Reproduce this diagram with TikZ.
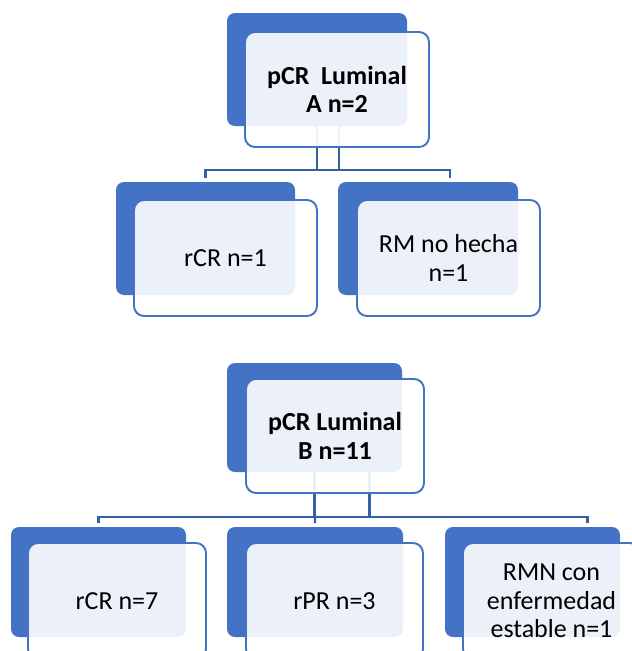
\documentclass[tikz,border=0pt]{standalone}
\usepackage{fontspec}
\setmainfont{Carlito}
\definecolor{smblue}{HTML}{4472C4}
\definecolor{smline}{HTML}{3560A8}
\begin{document}
\begin{tikzpicture}[x=1pt,y=-1pt,
    backbox/.style={fill=smblue,rounded corners=8pt,anchor=north west,inner sep=0pt,outer sep=0pt},
    frontbox/.style={draw=smblue,line width=1.9pt,fill=white,fill opacity=0.9,text opacity=1,
      rounded corners=10pt,anchor=north west,inner sep=0pt,outer sep=0pt,align=center,
      font=\fontsize{26}{28.5}\selectfont},
    conn/.style={draw=smline,line width=2.1pt}]
    \clip (0,0) rectangle (632,651);
    % upper chart
    \node[backbox,minimum width=180pt,minimum height=113pt] (pAb) at (227,13) {};
    \node[backbox,minimum width=179pt,minimum height=113pt] (a1b) at (116,182) {};
    \node[backbox,minimum width=180pt,minimum height=113pt] (a2b) at (338,182) {};
    \draw[conn] ([xshift=22pt]pAb.south) -- ++(0,44) -| ([yshift=4pt]a1b.north);
    \draw[conn] (pAb.south) -- ++(0,44) -| ([xshift=22pt,yshift=4pt]a2b.north);
    \node[frontbox,minimum width=184pt,minimum height=115pt] (pAf) at (245,32) {\bfseries pCR\ \ Luminal\\\bfseries A n=2};
    \node[frontbox,minimum width=183pt,minimum height=116pt] (a1f) at (134,200) {rCR n=1};
    \node[frontbox,minimum width=183pt,minimum height=116pt] (a2f) at (357,200) {RM no hecha\\n=1};
    % lower chart
    \node[backbox,minimum width=175pt,minimum height=109pt] (pBb) at (227,363) {};
    \node[backbox,minimum width=175pt,minimum height=110pt] (b1b) at (11,527) {};
    \node[backbox,minimum width=176pt,minimum height=110pt] (b2b) at (227,527) {};
    \node[backbox,minimum width=175pt,minimum height=110pt] (b3b) at (445,527) {};
    \draw[conn] ([xshift=55pt]pBb.south) -- ++(0,45) -| ([yshift=4pt]b1b.north);
    \draw[conn] (pBb.south) -- ([yshift=4pt]b2b.north);
    \draw[conn] (pBb.south) -- ++(0,45) -| ([xshift=55pt,yshift=4pt]b3b.north);
    \node[frontbox,minimum width=178pt,minimum height=114pt] (pBf) at (246,379) {\bfseries pCR Luminal\\\bfseries B n=11};
    \node[frontbox,minimum width=178pt,minimum height=116pt] (b1f) at (28,543) {rCR n=7};
    \node[frontbox,minimum width=177pt,minimum height=116pt] (b2f) at (246,543) {rPR n=3};
    \node[frontbox,minimum width=177pt,minimum height=116pt] (b3f) at (463,543) {RMN con\\enfermedad\\estable n=1};
\end{tikzpicture}
\end{document}
